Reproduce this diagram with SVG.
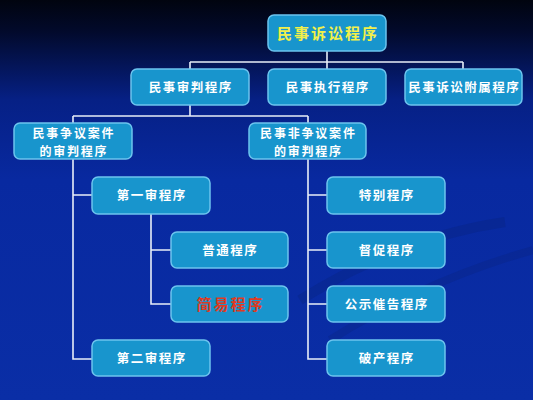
<svg xmlns="http://www.w3.org/2000/svg" width="533" height="400" viewBox="0 0 533 400">
<defs>
<linearGradient id="bg" x1="0" y1="0" x2="0" y2="1">
<stop offset="0" stop-color="#01040f"/>
<stop offset="0.08" stop-color="#020a2c"/>
<stop offset="0.25" stop-color="#062085"/>
<stop offset="0.45" stop-color="#0829a0"/>
<stop offset="1" stop-color="#0a2ea6"/>
</linearGradient>
<style>
.box{fill:#1895cd;stroke:#6cc4ee;stroke-width:1.5}
.t{font-family:"Noto Sans CJK SC","Noto Sans CJK JP",sans-serif;font-weight:bold;fill:#ffffff;font-size:12.5px;letter-spacing:1.5px;text-anchor:middle}
.two{font-size:12px;letter-spacing:1.8px}
.top{fill:#f2f04a;font-size:15px;letter-spacing:2px}
.red{fill:#e03a22;font-size:15px;letter-spacing:2px}
.ln{fill:none;stroke:#e8eef8;stroke-width:1.6}
</style>
</defs>
<rect width="533" height="400" fill="url(#bg)"/>
<path d="M300 300 C380 250 450 230 505 222" fill="none" stroke="#08206f" stroke-width="10" opacity="0.25"/>
<path d="M330 340 C410 290 480 265 533 250" fill="none" stroke="#08206f" stroke-width="8" opacity="0.22"/>
<g id="connectors">
<path class="ln" d="M327 51V62M190 62H463M190 62V69M327 62V69M463 62V69"/>
<path class="ln" d="M190 105V116M73 116H308M73 116V123M308 116V123"/>
<path class="ln" d="M73 159V359H92M73 195H92"/>
<path class="ln" d="M151 214V304H171M151 250H171"/>
<path class="ln" d="M308 159V359H327M308 195H327M308 250H327M308 304H327"/>
</g>
<g id="n-root"><rect class="box" x="268" y="15" width="118" height="36" rx="6"/><text class="t top" x="328" y="38.5">民事诉讼程序</text></g>
<g id="n-trial"><rect class="box" x="131" y="69" width="118" height="36" rx="6"/><text class="t" x="190.75" y="91.5">民事审判程序</text></g>
<g id="n-exec"><rect class="box" x="268" y="69" width="118" height="36" rx="6"/><text class="t" x="327.75" y="91.5">民事执行程序</text></g>
<g id="n-aux"><rect class="box" x="405" y="69" width="117" height="36" rx="6"/><text class="t" x="464.25" y="91.5">民事诉讼附属程序</text></g>
<g id="n-dispute"><rect class="box" x="14" y="123" width="118" height="36" rx="6"/><text class="t two" x="73.9" y="137.8">民事争议案件</text><text class="t two" x="73.9" y="155.8">的审判程序</text></g>
<g id="n-nondispute"><rect class="box" x="249" y="123" width="117" height="36" rx="6"/><text class="t two" x="308.4" y="137.8">民事非争议案件</text><text class="t two" x="308.4" y="155.8">的审判程序</text></g>
<g id="n-first"><rect class="box" x="92" y="177" width="118" height="37" rx="6"/><text class="t" x="151.75" y="200">第一审程序</text></g>
<g id="n-ordinary"><rect class="box" x="171" y="232" width="117" height="36" rx="6"/><text class="t" x="230.25" y="254.5">普通程序</text></g>
<g id="n-simple"><rect class="box" x="171" y="286" width="117" height="36" rx="6"/><text class="t red" x="230.5" y="309.5">简易程序</text></g>
<g id="n-second"><rect class="box" x="92" y="340" width="118" height="36" rx="6"/><text class="t" x="151.75" y="362.5">第二审程序</text></g>
<g id="n-special"><rect class="box" x="327" y="177" width="118" height="37" rx="6"/><text class="t" x="386.75" y="200">特别程序</text></g>
<g id="n-urge"><rect class="box" x="327" y="232" width="118" height="36" rx="6"/><text class="t" x="386.75" y="254.5">督促程序</text></g>
<g id="n-notice"><rect class="box" x="327" y="286" width="118" height="36" rx="6"/><text class="t" x="386.75" y="308.5">公示催告程序</text></g>
<g id="n-bankrupt"><rect class="box" x="327" y="340" width="118" height="36" rx="6"/><text class="t" x="386.75" y="362.5">破产程序</text></g>
</svg>
